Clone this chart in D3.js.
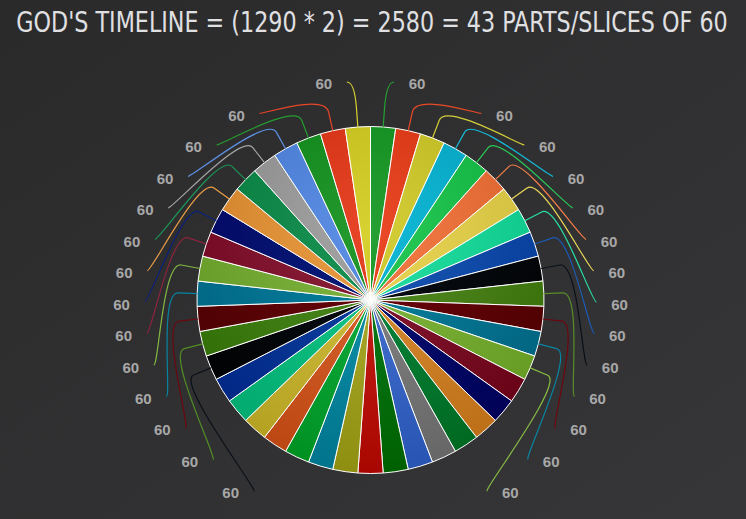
<!DOCTYPE html>
<html><head><meta charset="utf-8">
<script src="https://cdn.jsdelivr.net/npm/d3@7/dist/d3.min.js"></script>
<style>html,body{margin:0;padding:0;background:#2a2a2b;overflow:hidden}</style>
</head><body>
<svg id="chart" width="746" height="519"></svg>
<script>
// ---- data ----
const titleText = "GOD'S TIMELINE = (1290 * 2) = 2580 = 43 PARTS/SLICES OF 60";
const sliceValues = [60,60,60,60,60,60,60,60,60,60,60,60,60,60,60,60,60,60,60,60,60,
                     60,60,60,60,60,60,60,60,60,60,60,60,60,60,60,60,60,60,60,60,60,60];
const sliceColors = [
  "#26a032","#eb4a28","#d4ce38","#12bad7","#2aca58","#f57e48","#ecd858","#28e1a5",
  "#1c5ab6","#0a1018","#588e28","#6e060e","#0a84a0","#86bc44","#8a1e38","#081478",
  "#e0923a","#0c8c44","#8a8a8a","#4c78d8","#0c8424","#cc2a1e","#b2b234","#1298b0",
  "#14b446","#e06a36","#d8c444","#18cc90","#1248a6","#0a1018","#528e26","#6c070f",
  "#0784a2","#84b844","#8e243e","#0a207d","#eb9e46","#1c9658","#a5a5a5","#5f91e6",
  "#269b30","#e84628","#d7d232"
];
const labelSlotsPerSide = 14;

// ---- layout ----
const W = 746, H = 519;
const cx = 370.5, cy = 300, R = 173.5;
const svg = d3.select("#chart");
const defs = svg.append("defs");

const bg = defs.append("linearGradient").attr("id","bg")
  .attr("x1",0).attr("y1",0).attr("x2",1).attr("y2",1);
bg.append("stop").attr("offset",0).attr("stop-color","#2a2a2b");
bg.append("stop").attr("offset",1).attr("stop-color","#363638");
svg.append("rect").attr("width",W).attr("height",H).attr("fill","url(#bg)");

// title: condensed by horizontal scaling to the reference width
const titleG = svg.append("g");
const title = titleG.append("text")
  .attr("x", 0).attr("y", 0)
  .attr("text-anchor","middle")
  .attr("fill","#E0E0E3")
  .style("font-family","'DejaVu Sans Condensed','Liberation Sans Narrow',Roboto,sans-serif")
  .style("font-stretch","condensed")
  .style("font-size","29px")
  .text(titleText);
const natW = title.node().getComputedTextLength();
const sx = 712 / natW;
titleG.attr("transform", `translate(372,32) scale(${sx},1)`);

const pie = d3.pie().sort(null).startAngle(0).endAngle(2*Math.PI).value(d=>d);
const arcs = pie(sliceValues);
const arc = d3.arc().innerRadius(0).outerRadius(R);

// radial gradient per slice (in the pie group's coordinates)
sliceColors.forEach((c,i)=>{
  const base = d3.rgb(c);
  const D = 36;
  const dk = d3.rgb(Math.max(0,base.r-D), Math.max(0,base.g-D), Math.max(0,base.b-D));
  const g = defs.append("radialGradient").attr("id","g"+i)
    .attr("gradientUnits","userSpaceOnUse")
    .attr("cx",0).attr("cy",-0.2*2*R).attr("r",0.7*2*R);
  g.append("stop").attr("offset",0).attr("stop-color",base.formatHex());
  g.append("stop").attr("offset",1).attr("stop-color",dk.formatHex());
});

const gPie = svg.append("g").attr("transform",`translate(${cx},${cy})`);
gPie.selectAll("path").data(arcs).join("path")
  .attr("d", arc)
  .attr("fill", (d,i)=>`url(#g${i})`)
  .attr("stroke","#ffffff").attr("stroke-width",1).attr("stroke-linejoin","round");

// ---- labels ----
const mids = arcs.map((a,i)=>({i, ang:(a.startAngle+a.endAngle)/2, value:a.data}));
const right = mids.filter(m=>m.ang < Math.PI).sort((a,b)=>a.ang-b.ang).slice(0,labelSlotsPerSide);
const left  = mids.filter(m=>m.ang >= Math.PI).sort((a,b)=>b.ang-a.ang).slice(0,labelSlotsPerSide);

const slotY = d3.scaleLinear().domain([0, labelSlotsPerSide-1]).range([cy-216, cy+193]);
function labelDx(dy){ const u=(dy-6)/226; return 249*Math.sqrt(Math.max(0,1-u*u)); }

const gLab = svg.append("g");
function place(list, side){
  list.forEach((m,k)=>{
    const y = slotY(k);
    const dx = labelDx(y-cy);
    const tx = cx + side*dx;
    const ex = cx + side*(dx-23), ey = y-2;
    const s = Math.sin(m.ang), c = Math.cos(m.ang);
    const touch = [cx + R*s, cy - R*c];
    const brk = [cx + (R+19)*s, cy - (R+19)*c];
    const cp2 = [2*brk[0]-touch[0], 2*brk[1]-touch[1]];
    const p = d3.path();
    p.moveTo(ex, ey);
    p.bezierCurveTo(ex - side*5, ey, cp2[0], cp2[1], brk[0], brk[1]);
    p.lineTo(touch[0], touch[1]);
    gLab.append("path").attr("d", p.toString())
      .attr("fill","none").attr("stroke", sliceColors[m.i]).attr("stroke-width",1.2);
    gLab.append("text").attr("x",tx).attr("y",y).attr("dy","0.36em")
      .attr("text-anchor","middle")
      .attr("fill","#a8a8a8")
      .style("font-family","'Liberation Sans',Arial,sans-serif")
      .style("font-weight","bold").style("font-size","15px")
      .text(m.value);
  });
}
place(right, 1);
place(left, -1);
</script>
</body></html>
